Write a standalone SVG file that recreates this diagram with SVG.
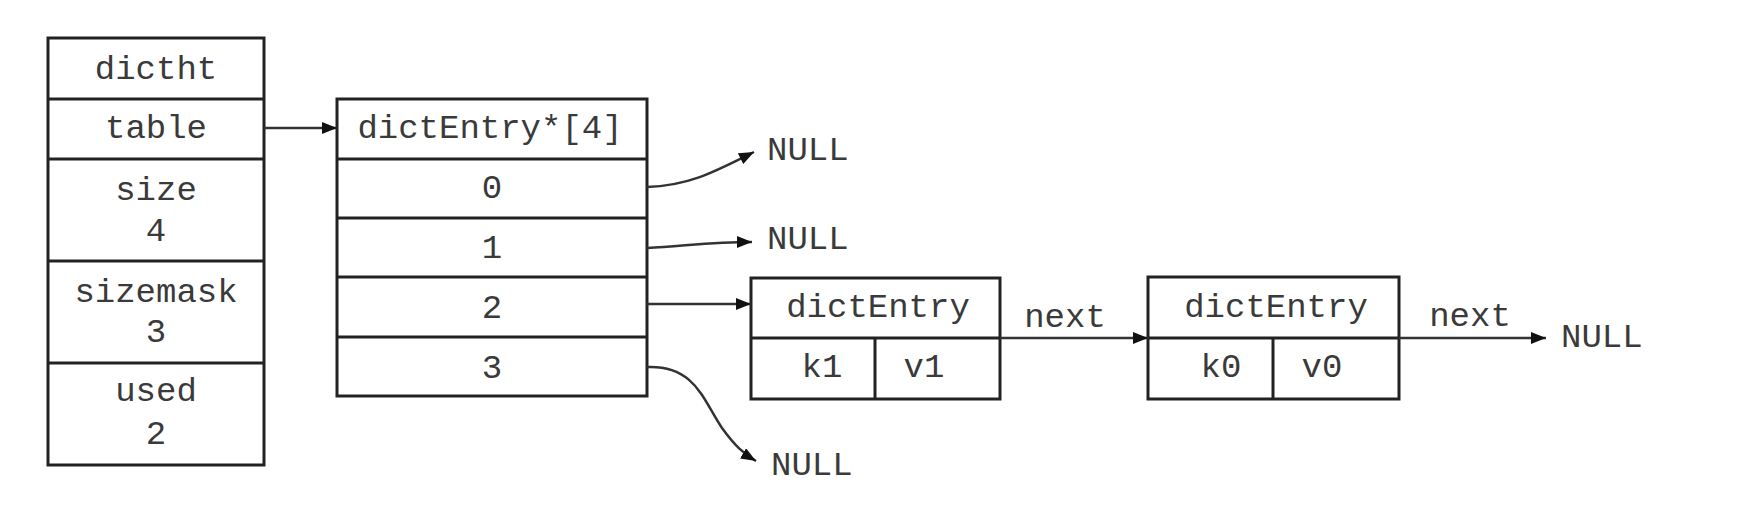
<svg xmlns="http://www.w3.org/2000/svg" width="1760" height="522" viewBox="0 0 1760 522">
<style>
.box{fill:#fff;stroke:#222;stroke-width:3}
.ln{stroke:#222;stroke-width:3;fill:none}
.t{font-family:"Liberation Mono","Courier New",monospace;font-size:34px;fill:#3a3a3a;text-anchor:middle}
.tl{font-family:"Liberation Mono","Courier New",monospace;font-size:34px;fill:#3a3a3a}
.c{stroke:#333;stroke-width:2.5;fill:none;marker-end:url(#ah)}
</style>
<defs>
<marker id="ah" markerUnits="userSpaceOnUse" markerWidth="16" markerHeight="12" refX="15" refY="6" orient="auto">
<path d="M0,0 L15,6 L0,12 z" fill="#111"/>
</marker>
</defs>
<rect width="1760" height="522" fill="#fff"/>
<g id="dictht">
<rect class="box" x="48" y="38" width="216" height="427"/>
<line class="ln" x1="48" y1="99" x2="264" y2="99"/>
<line class="ln" x1="48" y1="159" x2="264" y2="159"/>
<line class="ln" x1="48" y1="261" x2="264" y2="261"/>
<line class="ln" x1="48" y1="363" x2="264" y2="363"/>
<text class="t" x="156" y="79">dictht</text>
<text class="t" x="156" y="138">table</text>
<text class="t" x="156" y="200">size</text>
<text class="t" x="156" y="241">4</text>
<text class="t" x="156" y="302">sizemask</text>
<text class="t" x="156" y="342">3</text>
<text class="t" x="156" y="401">used</text>
<text class="t" x="156" y="444">2</text>
</g>
<g id="table-array">
<rect class="box" x="337" y="99" width="310" height="297"/>
<line class="ln" x1="337" y1="159" x2="647" y2="159"/>
<line class="ln" x1="337" y1="218" x2="647" y2="218"/>
<line class="ln" x1="337" y1="277" x2="647" y2="277"/>
<line class="ln" x1="337" y1="337" x2="647" y2="337"/>
<text class="t" x="490" y="138">dictEntry*[4]</text>
<text class="t" x="492" y="198">0</text>
<text class="t" x="492" y="258">1</text>
<text class="t" x="492" y="318">2</text>
<text class="t" x="492" y="378">3</text>
</g>
<g id="entry-k1">
<rect class="box" x="751" y="278" width="249" height="121"/>
<line class="ln" x1="751" y1="338" x2="1000" y2="338"/>
<line class="ln" x1="875" y1="338" x2="875" y2="399"/>
<text class="t" x="878" y="317">dictEntry</text>
<text class="t" x="822" y="377">k1</text>
<text class="t" x="924" y="377">v1</text>
</g>
<g id="entry-k0">
<rect class="box" x="1148" y="277" width="251" height="122"/>
<line class="ln" x1="1148" y1="338" x2="1399" y2="338"/>
<line class="ln" x1="1273" y1="338" x2="1273" y2="399"/>
<text class="t" x="1276" y="317">dictEntry</text>
<text class="t" x="1221" y="377">k0</text>
<text class="t" x="1322" y="377">v0</text>
</g>
<g id="nulls">
<text class="tl" x="767" y="160">NULL</text>
<text class="tl" x="767" y="249">NULL</text>
<text class="tl" x="771" y="475">NULL</text>
<text class="tl" x="1561" y="347">NULL</text>
</g>
<g id="connectors">
<path class="c" d="M264,128 L337,128"/>
<path class="c" d="M647,187 C690,186 718,170 754,152"/>
<path class="c" d="M647,248 C685,246 712,242 752,242"/>
<path class="c" d="M647,304 L751,304"/>
<path class="c" d="M647,367 C695,365 703,400 722,428 C735,446 744,454 756,461"/>
<path class="c" d="M1000,338 L1148,338"/>
<path class="c" d="M1399,338 L1546,338"/>
<text class="t" x="1065" y="327">next</text>
<text class="t" x="1470" y="326">next</text>
</g>
</svg>
